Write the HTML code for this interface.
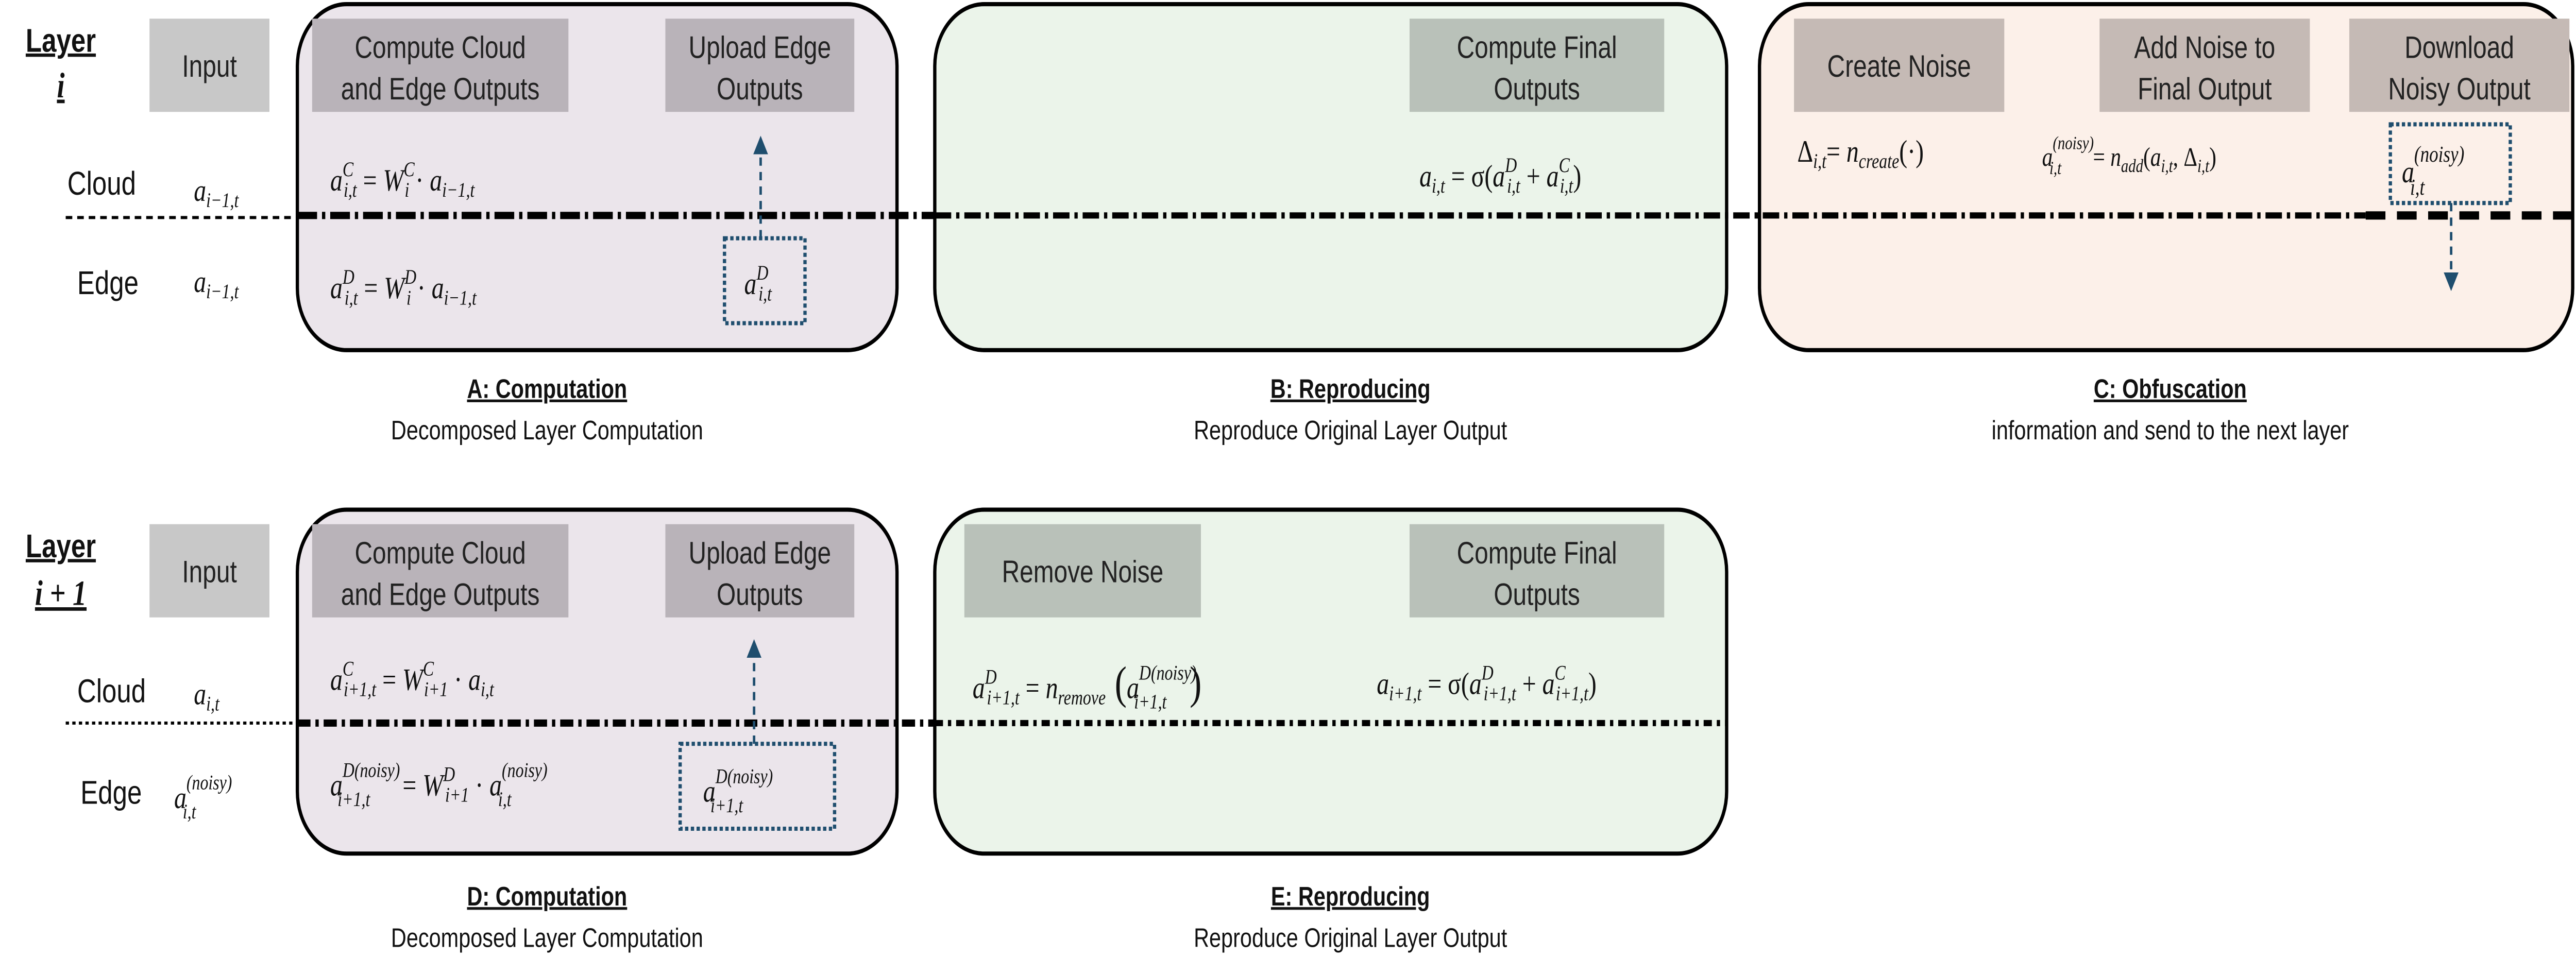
<!DOCTYPE html>
<html><head><meta charset="utf-8"><style>
html,body{margin:0;padding:0;background:#fff;width:100vw;height:100vh;overflow:hidden;}
svg{display:block;width:100vw;height:100vh;}
.lbl{font-family:"Liberation Sans",sans-serif;fill:#111;}
.m{font-family:"Liberation Serif",serif;font-style:italic;fill:#111;}
.box text{font-family:"Liberation Sans",sans-serif;font-size:15px;fill:#222;text-anchor:middle;}
</style></head><body>
<svg viewBox="0 0 1568 470.6" preserveAspectRatio="none" xmlns="http://www.w3.org/2000/svg">
<defs><marker id="ah" markerWidth="6" markerHeight="6" refX="3" refY="3" orient="auto"><path d="M0,0 L6,3 L0,6 z" fill="#1f4e6e"/></marker></defs>
<rect x="181" y="2" width="365" height="167" rx="30" fill="#ebe5eb" stroke="#000" stroke-width="2"/>
<rect x="569" y="2" width="482" height="167" rx="30" fill="#ebf4ea" stroke="#000" stroke-width="2"/>
<rect x="1071" y="2" width="495" height="167" rx="30" fill="#fcf0e9" stroke="#000" stroke-width="2"/>
<rect x="181" y="246" width="365" height="166" rx="30" fill="#ebe5eb" stroke="#000" stroke-width="2"/>
<rect x="569" y="246" width="482" height="166" rx="30" fill="#ebf4ea" stroke="#000" stroke-width="2"/>

<g stroke="#000">
<line x1="40" y1="105" x2="181" y2="105" stroke-width="1.5" stroke-dasharray="4,3"/>
<line x1="181" y1="104" x2="569" y2="104" stroke-width="3.5" stroke-dasharray="12,3,2,3"/>
<line x1="569" y1="104" x2="1440" y2="104" stroke-width="3" stroke-dasharray="10,3,2,3"/>
<line x1="1440" y1="104" x2="1566" y2="104" stroke-width="4" stroke-dasharray="12,7"/>
</g>
<g stroke="#000">
<line x1="40" y1="349" x2="181" y2="349" stroke-width="1.5" stroke-dasharray="2,2"/>
<line x1="181" y1="349" x2="569" y2="349" stroke-width="3.5" stroke-dasharray="8,3,2,3"/>
<line x1="569" y1="349" x2="1051" y2="349" stroke-width="3" stroke-dasharray="5,3,2,3"/>
</g>

<g class="box">
<g><rect x="91" y="9" width="73" height="45" fill="#c8c8c8"/><text x="127.5" y="37">Input</text></g>
<g><rect x="190" y="9" width="156" height="45" fill="#b9b3b9"/><text x="268" y="28">Compute Cloud</text><text x="268" y="48">and Edge Outputs</text></g>
<g><rect x="405" y="9" width="115" height="45" fill="#b9b3b9"/><text x="462.5" y="28">Upload Edge</text><text x="462.5" y="48">Outputs</text></g>
<g><rect x="858" y="9" width="155" height="45" fill="#b9c1b9"/><text x="935.5" y="28">Compute Final</text><text x="935.5" y="48">Outputs</text></g>
<g><rect x="1092" y="9" width="128" height="45" fill="#c5bab5"/><text x="1156" y="37">Create Noise</text></g>
<g><rect x="1278" y="9" width="128" height="45" fill="#c5bab5"/><text x="1342" y="28">Add Noise to</text><text x="1342" y="48">Final Output</text></g>
<g><rect x="1430" y="9" width="134" height="45" fill="#c5bab5"/><text x="1497" y="28">Download</text><text x="1497" y="48">Noisy Output</text></g>

<g><rect x="91" y="253" width="73" height="45" fill="#c8c8c8"/><text x="127.5" y="281">Input</text></g>
<g><rect x="190" y="253" width="156" height="45" fill="#b9b3b9"/><text x="268" y="272">Compute Cloud</text><text x="268" y="292">and Edge Outputs</text></g>
<g><rect x="405" y="253" width="115" height="45" fill="#b9b3b9"/><text x="462.5" y="272">Upload Edge</text><text x="462.5" y="292">Outputs</text></g>
<g><rect x="587" y="253" width="144" height="45" fill="#b9c1b9"/><text x="659" y="281">Remove Noise</text></g>
<g><rect x="858" y="253" width="155" height="45" fill="#b9c1b9"/><text x="935.5" y="272">Compute Final</text><text x="935.5" y="292">Outputs</text></g>
</g>

<text class="lbl" x="37" y="25" font-size="16" font-weight="bold" text-anchor="middle" text-decoration="underline">Layer</text>
<text class="m" x="37" y="47" font-size="17" font-weight="bold" text-anchor="middle" text-decoration="underline">i</text>
<text class="lbl" x="37" y="269" font-size="16" font-weight="bold" text-anchor="middle" text-decoration="underline">Layer</text>
<text class="m" x="37" y="292" font-size="17" font-weight="bold" text-anchor="middle" text-decoration="underline">i + 1</text>
<text class="lbl" x="41" y="94" font-size="16">Cloud</text>
<text class="lbl" x="47" y="142" font-size="16">Edge</text>
<text class="lbl" x="47" y="339" font-size="16">Cloud</text>
<text class="lbl" x="49" y="388" font-size="16">Edge</text>

<text class="m" font-size="15" x="118" y="97">a<tspan font-size="10" dy="3">i−1,t</tspan></text>
<text class="m" font-size="15" x="118" y="141">a<tspan font-size="10" dy="3">i−1,t</tspan></text>
<text class="m" font-size="15" x="201" y="92">a<tspan font-size="10" dy="-7">C</tspan><tspan font-size="10" dx="-6" dy="10">i,t</tspan><tspan dy="-3" font-style="normal"> = </tspan>W<tspan font-size="10" dy="-7">C</tspan><tspan font-size="10" dx="-6" dy="10">i</tspan><tspan dy="-3" font-style="normal"> · </tspan>a<tspan font-size="10" dy="3">i−1,t</tspan></text>
<text class="m" font-size="15" x="201" y="144">a<tspan font-size="10" dy="-7">D</tspan><tspan font-size="10" dx="-6" dy="10">i,t</tspan><tspan dy="-3" font-style="normal"> = </tspan>W<tspan font-size="10" dy="-7">D</tspan><tspan font-size="10" dx="-6" dy="10">i</tspan><tspan dy="-3" font-style="normal"> · </tspan>a<tspan font-size="10" dy="3">i−1,t</tspan></text>
<rect x="441" y="115" width="49" height="41" fill="none" stroke="#1f4e6e" stroke-width="2" stroke-dasharray="2,1.5"/>
<text class="m" font-size="15" x="453" y="142">a<tspan font-size="10" dy="-7">D</tspan><tspan font-size="10" dx="-6" dy="10">i,t</tspan></text>
<line x1="463" y1="115" x2="463" y2="70" stroke="#1f4e6e" stroke-width="1.5" stroke-dasharray="4,3" marker-end="url(#ah)"/>
<text class="m" font-size="15" x="864" y="90">a<tspan font-size="10" dy="3">i,t</tspan><tspan dy="-3" font-style="normal"> = σ(</tspan>a<tspan font-size="10" dy="-7">D</tspan><tspan font-size="10" dx="-6" dy="10">i,t</tspan><tspan dy="-3" font-style="normal"> + </tspan>a<tspan font-size="10" dy="-7">C</tspan><tspan font-size="10" dx="-6" dy="10">i,t</tspan><tspan dy="-3" font-style="normal">)</tspan></text>
<text class="m" font-size="15" x="1094" y="78"><tspan font-style="normal">Δ</tspan><tspan font-size="10" dy="3">i,t</tspan><tspan dy="-3" font-style="normal">= </tspan>n<tspan font-size="10" dy="3">create</tspan><tspan dy="-3" font-style="normal">(·)</tspan></text>
<text class="m" font-size="13" x="1243" y="80">a<tspan font-size="9" dy="-8">(noisy)</tspan><tspan font-size="9" dx="-27" dy="12">i,t</tspan><tspan dx="16" dy="-4" font-style="normal"> = </tspan>n<tspan font-size="9" dy="3">add</tspan><tspan dy="-3" font-style="normal">(</tspan>a<tspan font-size="9" dy="3">i,t</tspan><tspan dy="-3" font-style="normal">, Δ</tspan><tspan font-size="9" dy="3">i,t</tspan><tspan dy="-3" font-style="normal">)</tspan></text>
<rect x="1455" y="60" width="73" height="38" fill="none" stroke="#1f4e6e" stroke-width="2" stroke-dasharray="2,1.5"/>
<text class="m" font-size="15" x="1462" y="88">a<tspan font-size="11" dy="-10">(noisy)</tspan><tspan font-size="11" dx="-33" dy="16">i,t</tspan></text>
<line x1="1492" y1="98" x2="1492" y2="136" stroke="#1f4e6e" stroke-width="1.5" stroke-dasharray="4,3" marker-end="url(#ah)"/>

<text class="m" font-size="15" x="118" y="340">a<tspan font-size="10" dy="3">i,t</tspan></text>
<text class="m" font-size="15" x="106" y="390">a<tspan font-size="10" dy="-9">(noisy)</tspan><tspan font-size="10" dx="-30" dy="14">i,t</tspan></text>
<text class="m" font-size="15" x="201" y="333">a<tspan font-size="10" dy="-7">C</tspan><tspan font-size="10" dx="-6" dy="10">i+1,t</tspan><tspan dy="-3" font-style="normal"> = </tspan>W<tspan font-size="10" dy="-7">C</tspan><tspan font-size="10" dx="-6" dy="10">i+1</tspan><tspan dy="-3" font-style="normal"> · </tspan>a<tspan font-size="10" dy="3">i,t</tspan></text>
<text class="m" font-size="15" x="201" y="384">a<tspan font-size="10" dy="-9">D(noisy)</tspan><tspan font-size="10" dx="-38" dy="14">i+1,t</tspan><tspan dx="16" dy="-5" font-style="normal"> = </tspan>W<tspan font-size="10" dy="-7">D</tspan><tspan font-size="10" dx="-6" dy="10">i+1</tspan><tspan dy="-3" font-style="normal"> · </tspan>a<tspan font-size="10" dy="-9">(noisy)</tspan><tspan font-size="10" dx="-30" dy="14">i,t</tspan></text>
<rect x="414" y="359" width="94" height="41" fill="none" stroke="#1f4e6e" stroke-width="2" stroke-dasharray="2,1.5"/>
<text class="m" font-size="15" x="428" y="387">a<tspan font-size="10" dy="-9">D(noisy)</tspan><tspan font-size="10" dx="-38" dy="14">i+1,t</tspan></text>
<line x1="459" y1="359" x2="459" y2="313" stroke="#1f4e6e" stroke-width="1.5" stroke-dasharray="4,3" marker-end="url(#ah)"/>
<text class="m" font-size="15" x="592" y="337">a<tspan font-size="10" dy="-7">D</tspan><tspan font-size="10" dx="-6" dy="10">i+1,t</tspan><tspan dy="-3" font-style="normal"> = </tspan>n<tspan font-size="10" dy="3">remove</tspan><tspan dy="-3" font-style="normal" font-size="22"> (</tspan>a<tspan font-size="10" dy="-9">D(noisy)</tspan><tspan font-size="10" dx="-38" dy="14">i+1,t</tspan><tspan dx="14" dy="-5" font-style="normal" font-size="22">)</tspan></text>
<text class="m" font-size="15" x="838" y="335">a<tspan font-size="10" dy="3">i+1,t</tspan><tspan dy="-3" font-style="normal"> = σ(</tspan>a<tspan font-size="10" dy="-7">D</tspan><tspan font-size="10" dx="-6" dy="10">i+1,t</tspan><tspan dy="-3" font-style="normal"> + </tspan>a<tspan font-size="10" dy="-7">C</tspan><tspan font-size="10" dx="-6" dy="10">i+1,t</tspan><tspan dy="-3" font-style="normal">)</tspan></text>

<g class="lbl" font-size="13" text-anchor="middle">
<text x="333" y="192" font-weight="bold" text-decoration="underline">A: Computation</text>
<text x="333" y="212">Decomposed Layer Computation</text>
<text x="822" y="192" font-weight="bold" text-decoration="underline">B: Reproducing</text>
<text x="822" y="212">Reproduce Original Layer Output</text>
<text x="1321" y="192" font-weight="bold" text-decoration="underline">C: Obfuscation</text>
<text x="1321" y="212">information and send to the next layer</text>
<text x="333" y="437" font-weight="bold" text-decoration="underline">D: Computation</text>
<text x="333" y="457">Decomposed Layer Computation</text>
<text x="822" y="437" font-weight="bold" text-decoration="underline">E: Reproducing</text>
<text x="822" y="457">Reproduce Original Layer Output</text>
</g>
</svg>
</body></html>
